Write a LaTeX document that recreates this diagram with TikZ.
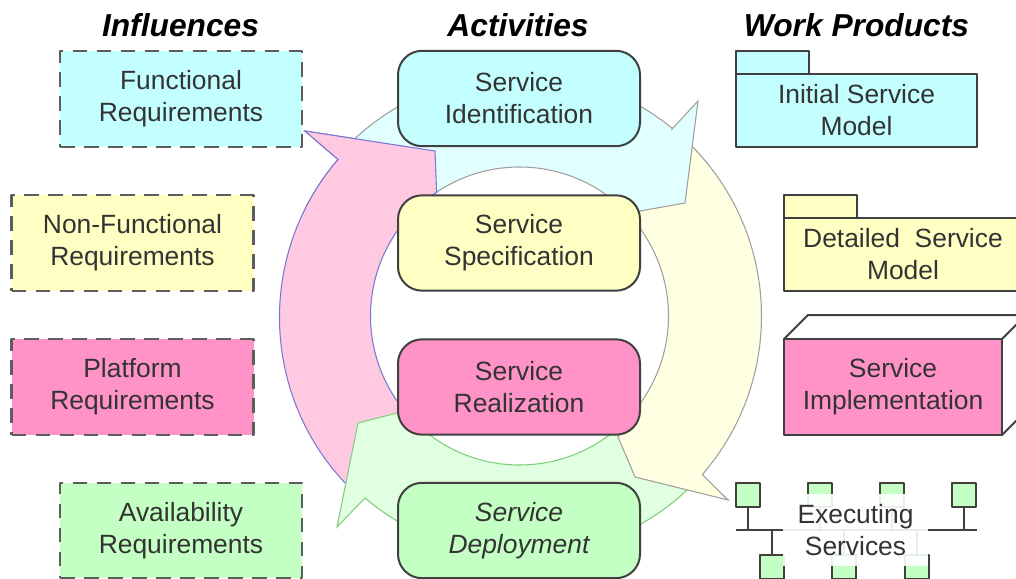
\documentclass[tikz,border=0pt]{standalone}
\usepackage{fontspec}
\setmainfont{Liberation Sans}
\usetikzlibrary{calc}
\definecolor{cyanbox}{HTML}{C4FFFF}
\definecolor{yellowbox}{HTML}{FFFFC4}
\definecolor{pinkbox}{HTML}{FF92C6}
\definecolor{greenbox}{HTML}{C4FFC4}
\definecolor{inktext}{HTML}{333333}
\definecolor{inkline}{HTML}{404040}
\tikzset{
  activity/.style={draw=inkline,line width=1.5pt,rounded corners=18pt,minimum width=181.5pt,minimum height=71.5pt,align=center,text=inktext},
  influence/.style={draw=inkline!85,line width=1.7pt,dash pattern=on 11pt off 7pt,minimum width=181.5pt,minimum height=71.5pt,align=center,text=inktext},
  product/.style={draw=inkline,line width=1.5pt,align=center,text=inktext},
  heading/.style={font=\fontsize{23.8}{26}\selectfont\bfseries\itshape},
  netbox/.style={draw=inkline,line width=1.5pt,fill=greenbox,minimum size=18pt,inner sep=0pt},
  netline/.style={draw=inkline,line width=1.5pt},
  ring/.style={line width=.8pt,line join=miter}
}
\begin{document}
\begin{tikzpicture}[x=.75pt,y=-.75pt,line join=round,font=\fontsize{19.8}{24}\selectfont]
  \useasboundingbox (0,0) rectangle (1016,578);
  \clip (0,0) rectangle (1016,578);
  \def\ro{242}
  \def\ri{149}
  \path (519.5,316) coordinate (O);
  % arrows of the cycle
  \def\pinkarrow{(305,131)--(338,159.5) arc (220.7:135:\ro)
    --($(O)+(142:\ri)$) arc (142:236.2:\ri)--(435,151)--cycle}
  \draw[ring,draw=blue!50!gray!70,fill=pinkbox!50!white] \pinkarrow;
  \draw[ring,draw=green!45!gray!70,fill=greenbox!50!white]
    (337,527)--(365,498) arc (130.3:42:\ro)
    --($(O)+(50:\ri)$) arc (50:130:\ri)--(397,413)--(358,423)--cycle;
  \draw[ring,draw=gray!75,fill=yellowbox!50!white]
    (728,500)--(635,477)--(618,437)--($(O)+(40:\ri)$) arc (40:-40:\ri)
    --($(O)+(-46:\ro)$) arc (-46:40.9:\ro)--cycle;
  \draw[ring,draw=gray!75,fill=cyanbox!50!white]
    (698,101)--(685,203)--(640,211)--($(O)+(-40:\ri)$) arc (-40:-124:\ri)
    --($(O)+(-133:\ro)$) arc (-133:-50.9:\ro)--(672,129)--cycle;
  \begin{scope}
    \clip (295,100) rectangle (445,205);
    \draw[ring,draw=blue!50!gray!70,fill=pinkbox!50!white] \pinkarrow;
  \end{scope}
  % headings
  \node[heading] (inf) at (180.5,25) {Influences};
  \node[heading] (act) at (518,25) {Activities};
  \node[heading] (wrk) at (856.5,25) {Work Products};
  % influences
  \node[influence,fill=cyanbox] (func) at (181,99) {Functional\\Requirements};
  \node[influence,fill=yellowbox] (nonf) at (132.5,243) {Non-Functional\\Requirements};
  \node[influence,fill=pinkbox] (plat) at (132.5,387) {Platform\\Requirements};
  \node[influence,fill=greenbox] (avail) at (181,530.5) {Availability\\Requirements};
  % activities
  \node[activity,fill=cyanbox] (ident) at (519,98.5) {Service\\Identification};
  \node[activity,fill=yellowbox] (spec) at (519,243) {Service\\Specification};
  \node[activity,fill=pinkbox] (real) at (519,387) {Service\\Realization};
  \node[activity,fill=greenbox] (depl) at (519,530.5) {\itshape Service\\\itshape Deployment};
  % work products
  \draw[product,fill=cyanbox] (736,51) rectangle (809,74);
  \node[product,fill=cyanbox,minimum width=180.75pt,minimum height=54.75pt] (init) at (856.5,110.5) {Initial Service\\Model};
  \draw[product,fill=yellowbox] (784,195) rectangle (857,218);
  \node[product,fill=yellowbox,minimum width=179pt,minimum height=54.75pt] (detl) at (903,254.5) {Detailed\ \ Service\\Model};
  \draw[product,fill=white] (784,339)--(808,315)--(1020,315)--(1020,417)--(1002,435)--cycle;
  \draw[product] (1002,339)--(1020,321);
  \node[product,fill=pinkbox,minimum width=163.5pt,minimum height=72pt] (impl) at (893,387) {Service\\Implementation};
  % network of services
  \foreach \x in {748,820,892,964} {
    \node[netbox] (top\x) at (\x,495) {};
    \draw[netline] (top\x.south)--(\x,530);
  }
  \foreach \x in {772,844,917} {
    \node[netbox] (bot\x) at (\x,567) {};
    \draw[netline] (bot\x.north)--(\x,530);
  }
  \draw[netline] (736,530)--(977,530);
  \node[fill=white,fill opacity=.9,text opacity=1,text=inktext,align=center,minimum width=108.75pt,minimum height=54pt,inner sep=0pt] (exec) at (855.5,530) {Executing\\Services};
\end{tikzpicture}
\end{document}
